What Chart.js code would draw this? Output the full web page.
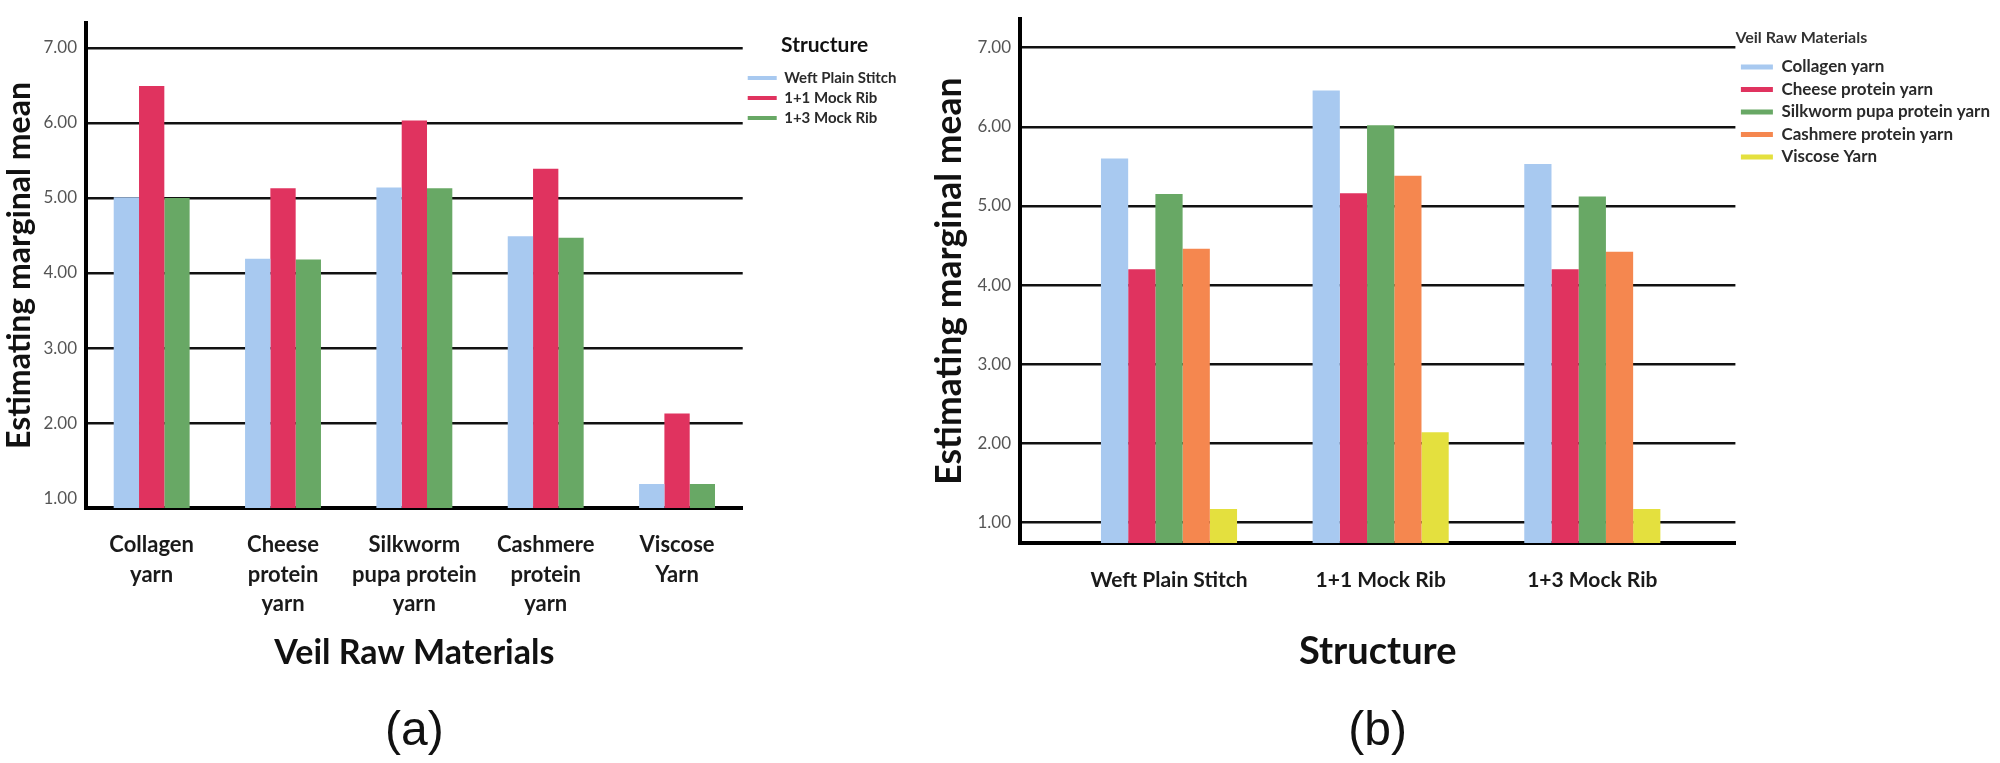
<!DOCTYPE html>
<html>
<head>
<meta charset="utf-8">
<script src="https://cdn.jsdelivr.net/npm/chart.js@4.4.0/dist/chart.umd.min.js"></script>
<style>
  html, body { margin: 0; padding: 0; background: #fff; }
  body { width: 2000px; height: 763px; position: relative; overflow: hidden; }
  canvas { position: absolute; top: 0; }
  #chartA { left: 0; }
  #chartB { left: 928px; }
</style>
</head>
<body>
<canvas id="chartA" width="928" height="763"></canvas>
<canvas id="chartB" width="1072" height="763"></canvas>
<script>
// panel (a): veil raw materials on x, one bar per structure
const materialLabels = [
  ['Collagen', 'yarn'],
  ['Cheese', 'protein', 'yarn'],
  ['Silkworm', 'pupa protein', 'yarn'],
  ['Cashmere', 'protein', 'yarn'],
  ['Viscose', 'Yarn']
];
const weftPlain = [5.01, 4.19, 5.14, 4.49, 1.19];
const mockRib11 = [6.49, 5.13, 6.03, 5.39, 2.13];
const mockRib13 = [5.00, 4.18, 5.13, 4.47, 1.19];

// panel (b): structures on x, one bar per raw material
const structures = ['Weft Plain Stitch', '1+1 Mock Rib', '1+3 Mock Rib'];
const collagen = [5.60, 6.46, 5.53];
const cheese = [4.20, 5.16, 4.20];
const silkworm = [5.15, 6.02, 5.12];
const cashmere = [4.46, 5.38, 4.42];
const viscose = [1.17, 2.14, 1.17];

const yTicks = [1, 2, 3, 4, 5, 6, 7];

const FONT = 'Lato, "DejaVu Sans", sans-serif';
const BLUE = '#a8c9f0', RED = '#e0335f', GREEN = '#68a865', ORANGE = '#f5874f', YELLOW = '#e4e03e';

// panel b sits on a numeric x axis so the groups keep the picture's spacing
const atIndex = arr => arr.map((y, i) => ({ x: i, y: y }));

function makeChart(id, o) {
  const x = {
    z: 1,
    grid: { display: false },
    border: { display: true, color: '#000', width: 4 },
    ticks: {
      color: '#1a1a1a', autoSkip: false, maxRotation: 0, padding: o.tickPad,
      font: { family: FONT, size: o.catSize, weight: 'bold', lineHeight: o.catLh }
    },
    title: {
      display: true, text: o.xTitle, color: '#111',
      font: { family: FONT, size: o.xTitleSize, weight: 'bold' },
      padding: { top: 0, bottom: o.xTitlePad }
    },
    afterFit: s => { s.height = o.xHeight; }
  };
  if (o.xRange) {
    x.type = 'linear';
    x.offset = false;
    x.min = o.xRange[0];
    x.max = o.xRange[1];
    x.afterBuildTicks = s => { s.ticks = o.labels.map((l, i) => ({ value: i })); };
    x.ticks.callback = v => o.labels[v];
  }
  return new Chart(document.getElementById(id), {
    type: 'bar',
    data: { labels: o.labels, datasets: o.datasets },
    options: {
      responsive: false,
      animation: false,
      devicePixelRatio: 1,
      layout: { padding: { left: 0, top: o.top, right: o.padRight, bottom: 0 } },
      datasets: { bar: { barPercentage: 1, categoryPercentage: o.catPct, borderWidth: 0 } },
      scales: {
        x: x,
        y: {
          min: o.yMin, max: o.yMax,
          afterBuildTicks: s => { s.ticks = yTicks.map(v => ({ value: v })); },
          grid: {
            drawTicks: false,
            lineWidth: 2.5,
            color: c => (o.skipOne && c.tick && c.tick.value === 1) ? 'rgba(0,0,0,0)' : '#111'
          },
          border: { display: true, color: '#000', width: 4 },
          ticks: {
            color: '#555', padding: 9,
            font: { family: FONT, size: 17 },
            callback: v => Number(v).toFixed(2)
          },
          title: {
            display: true, text: 'Estimating marginal mean', color: '#111',
            font: { family: FONT, size: o.yTitleSize, weight: 'bold' },
            padding: { top: 0, bottom: 0 }
          },
          afterFit: s => { s.width = o.yWidth; }
        }
      },
      plugins: {
        tooltip: { enabled: false },
        legend: {
          position: 'right',
          align: 'start',
          title: {
            display: true, text: o.legTitle, color: o.legTitleColor, position: o.legTitlePos,
            font: { family: FONT, size: o.legTitleSize, weight: 'bold' },
            padding: o.legTitlePad
          },
          labels: {
            color: '#2a2a2a', boxWidth: o.boxW, boxHeight: o.boxH, padding: o.legPad,
            font: { family: FONT, size: o.legSize, weight: 'bold' }
          }
        },
        subtitle: {
          display: true, position: 'bottom', fullSize: false, text: o.panel, color: '#111',
          font: { family: '"Liberation Sans", Arial, sans-serif', size: 48, weight: 'normal' },
          padding: { top: 0, bottom: 2 }
        }
      }
    }
  });
}

makeChart('chartA', {
  labels: materialLabels,
  datasets: [
    { label: 'Weft Plain Stitch', data: weftPlain, backgroundColor: BLUE },
    { label: '1+1 Mock Rib', data: mockRib11, backgroundColor: RED },
    { label: '1+3 Mock Rib', data: mockRib13, backgroundColor: GREEN }
  ],
  top: 23, padRight: 21.5, catPct: 0.578,
  tickPad: 14, catSize: 22, catLh: 1.35,
  xTitle: 'Veil Raw Materials', xTitleSize: 34, xTitlePad: 30, xHeight: 195.4,
  yMin: 0.87, yMax: 7.33, skipOne: true, yTitleSize: 32, yWidth: 86,
  legTitle: 'Structure', legTitleSize: 21, legTitleColor: '#111', legTitlePos: 'center',
  legTitlePad: { top: 11.5, bottom: 5.8 },
  boxW: 29, boxH: 4, legPad: 5, legSize: 15,
  panel: '(a)'
});

makeChart('chartB', {
  labels: structures,
  xRange: [-0.704, 2.676],
  datasets: [
    { label: 'Collagen yarn', data: atIndex(collagen), backgroundColor: BLUE },
    { label: 'Cheese protein yarn', data: atIndex(cheese), backgroundColor: RED },
    { label: 'Silkworm pupa protein yarn', data: atIndex(silkworm), backgroundColor: GREEN },
    { label: 'Cashmere protein yarn', data: atIndex(cashmere), backgroundColor: ORANGE },
    { label: 'Viscose Yarn', data: atIndex(viscose), backgroundColor: YELLOW }
  ],
  top: 9, padRight: 0, catPct: 0.643,
  tickPad: 17, catSize: 21, catLh: 1.2,
  xTitle: 'Structure', xTitleSize: 38, xTitlePad: 28.6, xHeight: 160.4,
  yMin: 0.74, yMax: 7.36, skipOne: false, yTitleSize: 35.5, yWidth: 92,
  legTitle: 'Veil Raw Materials', legTitleSize: 16, legTitleColor: '#333', legTitlePos: 'start',
  legTitlePad: { top: 21, bottom: 3.8 },
  boxW: 32, boxH: 5, legPad: 5.5, legSize: 17,
  panel: '(b)'
});
</script>
</body>
</html>
